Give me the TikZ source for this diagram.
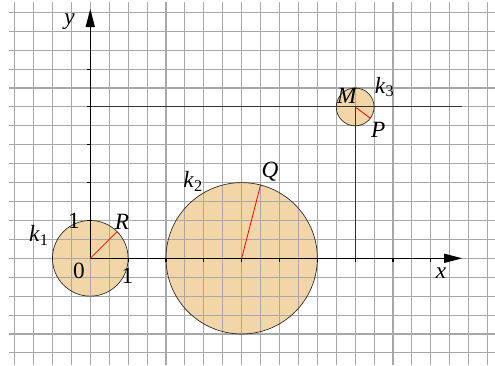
\documentclass[tikz,border=0pt]{standalone}
\usepackage{fontspec}
\setmainfont{Liberation Serif}
\usetikzlibrary{arrows.meta}
\definecolor{peach}{RGB}{243,214,168}
\definecolor{gridgray}{RGB}{168,168,168}
\begin{document}
\begin{tikzpicture}[
  lbl/.style={font=\fontsize{17.5}{20}\selectfont, inner sep=0pt},
  axisline/.style={line width=0.9pt, -{Triangle[length=4.8mm,width=2.4mm]}},
  disc/.style={fill=peach},
  rim/.style={draw=black!85, line width=0.5pt},
  radline/.style={red, line width=0.6pt},
  gridline/.style={gridgray, line width=0.8pt},
  guide/.style={black!80, line width=0.8pt},
  tickmark/.style={black, line width=0.8pt},
]
\useasboundingbox (-2.386,-2.820) rectangle (10.695,6.826);
\coordinate (O) at (0,0);
\coordinate (C2) at (4,0);
\coordinate (M) at (7,4);
\coordinate (R) at (45:1);
\coordinate (Q) at (4.5,1.9365);
\coordinate (P) at (7.4,3.7);
\coordinate (xend) at (9.83,0);
\coordinate (yend) at (0,6.59);
\coordinate (hstart) at (0,4);
\coordinate (hend) at (9.83,4);
\coordinate (vfoot) at (7,0);
% discs
\fill[disc] (O) circle (1);
\fill[disc] (C2) circle (2);
\fill[disc] (M) circle (0.5);
% grid
\foreach \y in {-5,...,13} \draw[gridline] (-2.15,\y/2) -- (10.7,\y/2);
\foreach \x in {-4,...,21} \draw[gridline] (\x/2,-2.83) -- (\x/2,6.77);
% rims
\draw[rim] (O) circle (1);
\draw[rim] (C2) circle (2);
\draw[rim] (M) circle (0.5);
% guide lines
\draw[guide] (hstart) -- (hend);
\draw[guide] (M) -- (vfoot);
% axes
\draw[axisline] (O) -- (xend);
\draw[axisline] (O) -- (yend);
\foreach \i in {1,...,9} \draw[tickmark] (\i,0) -- (\i,-0.1);
\foreach \i in {1,...,5} \draw[tickmark] (0,\i) -- (-0.1,\i);
% radii
\draw[radline] (O) -- (R);
\draw[radline] (C2) -- (Q);
\draw[radline] (M) -- (P);
% labels
\node[lbl] (ly) at (-0.55,6.25) {\textit{y}};
\node[lbl] (lx) at (9.27,-0.39) {\textit{x}};
\node[lbl] (lk1) at (-1.36,0.6) {\textit{k}\textsubscript{1}};
\node[lbl] (lone) at (-0.43,1.0) {1};
\node[lbl] (lzero) at (-0.30,-0.33) {0};
\node[lbl] (lonex) at (0.98,-0.47) {1};
\node[lbl] (lR) at (0.84,0.96) {\textit{R}};
\node[lbl] (lk2) at (2.72,2.03) {\textit{k}\textsubscript{2}};
\node[lbl] (lQ) at (4.75,2.30) {\textit{Q}};
\node[lbl] (lM) at (6.79,4.28) {\textit{M}};
\node[lbl] (lk3) at (7.78,4.52) {\textit{k}\textsubscript{3}};
\node[lbl] (lP) at (7.61,3.39) {\textit{P}};
\end{tikzpicture}
\end{document}
